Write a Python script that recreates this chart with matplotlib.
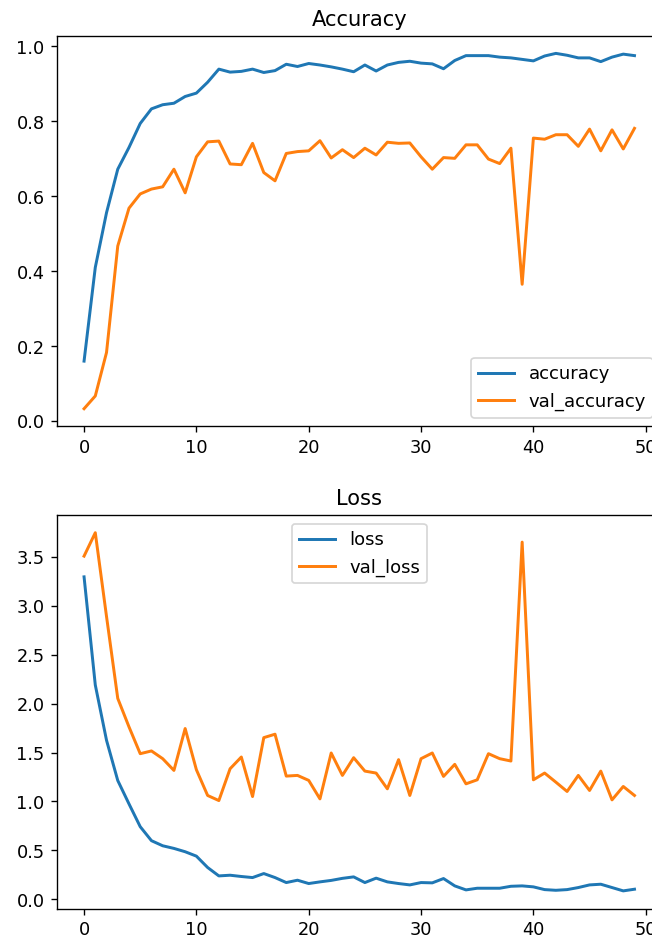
import matplotlib
matplotlib.use("Agg")
import matplotlib.pyplot as plt

epochs = list(range(50))

accuracy = [0.160, 0.410, 0.556, 0.672, 0.730, 0.794, 0.833, 0.844, 0.848, 0.866,
            0.875, 0.904, 0.939, 0.931, 0.933, 0.939, 0.930, 0.935, 0.952, 0.946,
            0.954, 0.950, 0.945, 0.939, 0.932, 0.950, 0.934, 0.950, 0.957, 0.960,
            0.955, 0.953, 0.940, 0.962, 0.975, 0.975, 0.975, 0.971, 0.969, 0.965,
            0.961, 0.974, 0.981, 0.976, 0.969, 0.969, 0.959, 0.971, 0.979, 0.975]

val_accuracy = [0.033, 0.067, 0.183, 0.467, 0.568, 0.606, 0.619, 0.625, 0.672, 0.609,
                0.705, 0.745, 0.747, 0.686, 0.684, 0.741, 0.663, 0.641, 0.714, 0.719,
                0.721, 0.748, 0.702, 0.724, 0.703, 0.728, 0.710, 0.744, 0.741, 0.742,
                0.705, 0.672, 0.703, 0.701, 0.737, 0.737, 0.699, 0.687, 0.728, 0.365,
                0.755, 0.752, 0.764, 0.764, 0.733, 0.779, 0.721, 0.777, 0.726, 0.781]

loss = [3.295, 2.190, 1.625, 1.214, 0.975, 0.742, 0.599, 0.547, 0.520, 0.486,
        0.441, 0.325, 0.239, 0.246, 0.233, 0.222, 0.263, 0.222, 0.171, 0.195,
        0.161, 0.178, 0.193, 0.214, 0.229, 0.171, 0.216, 0.178, 0.161, 0.147,
        0.171, 0.168, 0.212, 0.137, 0.096, 0.113, 0.113, 0.113, 0.133, 0.137,
        0.127, 0.099, 0.092, 0.099, 0.120, 0.147, 0.154, 0.120, 0.086, 0.103]

val_loss = [3.507, 3.746, 2.890, 2.053, 1.762, 1.488, 1.516, 1.437, 1.317, 1.745,
            1.324, 1.061, 1.009, 1.334, 1.454, 1.050, 1.652, 1.687, 1.259, 1.266,
            1.215, 1.026, 1.495, 1.266, 1.447, 1.310, 1.290, 1.129, 1.427, 1.061,
            1.437, 1.495, 1.256, 1.379, 1.180, 1.221, 1.488, 1.437, 1.413, 3.650,
            1.221, 1.290, 1.197, 1.102, 1.266, 1.112, 1.310, 1.016, 1.153, 1.061]

plt.rcParams.update({
    "font.size": 10.5,
    "axes.titlesize": 12.4,
    "legend.fontsize": 10.6,
    "lines.linewidth": 1.75,
})

DPI = 122
fig = plt.figure(figsize=(652.4 / DPI, 942.4 / DPI), dpi=DPI)

W, H = 652.0, 942.0
def pos(left, top, right, bottom):
    return [left / W, 1 - bottom / H, (right - left) / W, (bottom - top) / H]

ax1 = fig.add_axes(pos(56.5, 36, 661.6, 426.7))
ax1.plot(epochs, accuracy, label="accuracy")
ax1.plot(epochs, val_accuracy, label="val_accuracy")
ax1.set_title("Accuracy")
ax1.legend(loc="lower right")

ax2 = fig.add_axes(pos(56.5, 515, 661.6, 908.8))
ax2.plot(epochs, loss, label="loss")
ax2.plot(epochs, val_loss, label="val_loss")
ax2.set_title("Loss")
ax2.legend(loc="upper center")

fig.savefig("out.png", dpi=DPI)
